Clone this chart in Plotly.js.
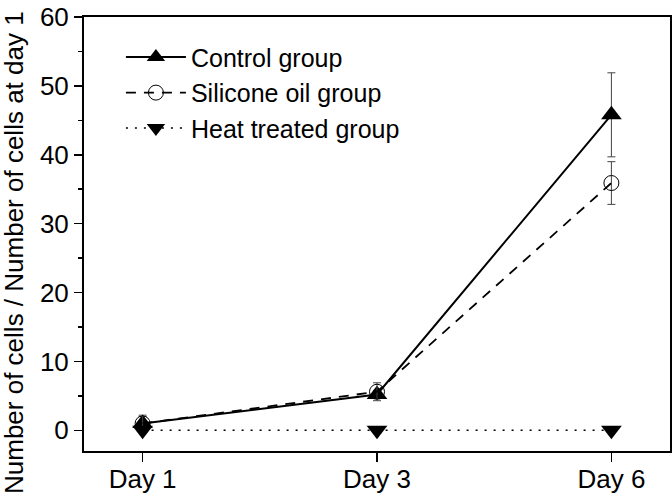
<!DOCTYPE html>
<html>
<head>
<meta charset="utf-8">
<script src="https://cdn.plot.ly/plotly-3.0.1.min.js"></script>
<style>html,body{margin:0;padding:0;background:#fff;}#chart{width:672px;height:503px;}</style>
</head>
<body>
<div id="chart"></div>
<script>
const days = ["Day 1", "Day 3", "Day 6"];
const controlVals = [1.0, 5.2, 45.8];
const controlErr = [1.2, 0.6, 6.1];
const siliconeVals = [1.0, 5.6, 35.9];
const siliconeErr = [1.0, 1.3, 3.1];
const heatVals = [0, 0, 0];
const seriesNames = ["Control group", "Silicone oil group", "Heat treated group"];
const yTitle = "Number of cells / Number of cells at day 1";

const errStyle = (arr) => ({type: "data", array: arr, visible: true, color: "#444", thickness: 1, width: 4});

const traces = [
  {x: days, y: controlVals, name: seriesNames[0], type: "scatter", mode: "lines+markers",
   line: {color: "#000", width: 2, dash: "solid"},
   marker: {symbol: "triangle-up", size: 18, color: "#000"},
   error_y: errStyle(controlErr)},
  {x: days, y: siliconeVals, name: seriesNames[1], type: "scatter", mode: "lines+markers",
   line: {color: "#000", width: 1.8, dash: "10px,8px"},
   marker: {symbol: "circle-open", size: 15, color: "#000", line: {width: 1}},
   error_y: errStyle(siliconeErr)},
  {x: days, y: heatVals, name: seriesNames[2], type: "scatter", mode: "lines+markers",
   line: {color: "#000", width: 1.5, dash: "2px,7px"},
   marker: {symbol: "triangle-down", size: 18, color: "#000"}}
];

const fam = "Liberation Sans, Arial, sans-serif";
const tickFont = {family: fam, size: 26, color: "#000"};

const layout = {
  width: 672, height: 503,
  margin: {l: 84, r: 2, t: 17, b: 52},
  paper_bgcolor: "#fff", plot_bgcolor: "#fff",
  font: tickFont,
  showlegend: true,
  legend: {x: 0.063, y: 0.96, xanchor: "left", yanchor: "top", bgcolor: "rgba(0,0,0,0)",
           font: {family: fam, size: 25, color: "#000"}, itemwidth: 60, tracegroupgap: 0},
  xaxis: {type: "category", range: [-0.25, 2.25], showgrid: false, zeroline: false,
          showline: true, linecolor: "#000", linewidth: 2, mirror: true,
          ticks: "outside", ticklen: 9, tickwidth: 1.5, tickcolor: "#000",
          ticklabelstandoff: -5, tickfont: tickFont},
  yaxis: {range: [-3, 60], tickvals: [0, 10, 20, 30, 40, 50, 60], showgrid: false, zeroline: false,
          showline: true, linecolor: "#000", linewidth: 2, mirror: true,
          ticks: "outside", ticklen: 8, tickwidth: 1.5, tickcolor: "#000",
          minor: {dtick: 5, ticks: "outside", ticklen: 4, tickwidth: 1.5, tickcolor: "#000", showgrid: false},
          tickfont: tickFont},
  annotations: [{text: yTitle, xref: "paper", yref: "paper", x: -0.1195, y: 0.4585,
                 xanchor: "center", yanchor: "middle", textangle: -90, showarrow: false,
                 font: {family: fam, size: 26, color: "#000"}}]
};

Plotly.newPlot("chart", traces, layout, {displayModeBar: false, staticPlot: true});
</script>
</body>
</html>
